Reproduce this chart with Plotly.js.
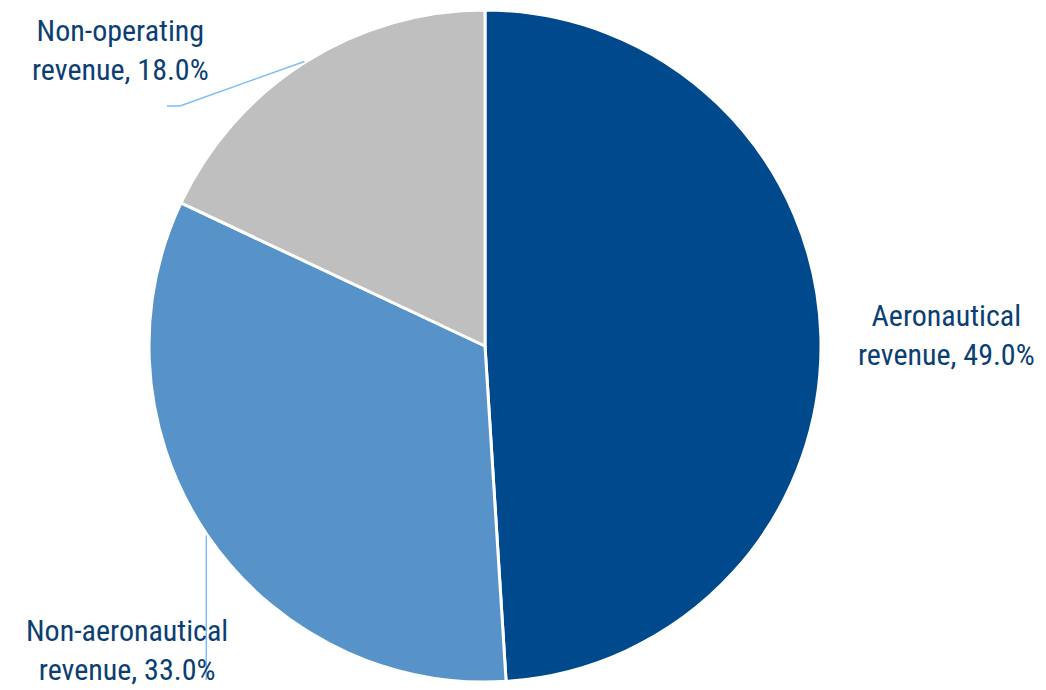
<!DOCTYPE html>
<html>
<head>
<meta charset="utf-8">
<script src="https://cdn.plot.ly/plotly-3.0.1.min.js"></script>
<style>html,body{margin:0;padding:0;background:#fff;}#chart{width:1046px;height:690px;}</style>
</head>
<body>
<div id="chart"></div>
<script>
const categories = ["Aeronautical revenue", "Non-aeronautical revenue", "Non-operating revenue"];
const labelLines = [["Aeronautical", "revenue"], ["Non-aeronautical", "revenue"], ["Non-operating", "revenue"]];
const shares = [49.0, 33.0, 18.0];
const colors = ["#00498C", "#5793C8", "#BFBFBF"];

const W = 1046, H = 690;
const cx = 485, cy = 346, R = 336;
const font = "'Liberation Sans Narrow', 'Arial Narrow', 'Roboto Condensed', 'DejaVu Sans Condensed', sans-serif";
const textColor = "#0B3E72";
const lineColor = "#7FBDF2";

function px(x){ return x / W; }
function py(y){ return 1 - y / H; }

// mid angles (clockwise from top)
const total = shares.reduce((a,b)=>a+b,0);
let acc = 0;
const mids = shares.map(v => { const m = (acc + v/2) / total * 2 * Math.PI; acc += v; return m; });
const edge = mids.map(a => [cx + Math.sin(a) * (R + 1), cy - Math.cos(a) * (R + 1)]);

const labelPos = [[946, 335], [127, 650], [120, 50]];
const annotations = categories.map((c, i) => ({
  xref: "paper", yref: "paper",
  x: px(labelPos[i][0]), y: py(labelPos[i][1]),
  xanchor: "center", yanchor: "middle",
  text: labelLines[i][0] + "<br>" + labelLines[i][1] + ", " + shares[i].toFixed(1) + "%",
  showarrow: false,
  font: {family: font, size: 30, color: textColor}
}));

const shapes = [
  // Non-operating leader
  {type: "path", xref: "paper", yref: "paper",
   path: "M " + px(edge[2][0]) + "," + py(edge[2][1]) + " L " + px(180) + "," + py(106) + " L " + px(167) + "," + py(106),
   line: {color: lineColor, width: 1.5}},
  // Non-aeronautical leader
  {type: "line", xref: "paper", yref: "paper",
   x0: px(edge[1][0]), y0: py(edge[1][1]), x1: px(edge[1][0]), y1: py(680),
   line: {color: lineColor, width: 1.5}}
];

const data = [{
  type: "pie",
  labels: categories,
  values: shares,
  sort: false,
  direction: "clockwise",
  rotation: 0,
  textinfo: "none",
  hoverinfo: "label+percent",
  marker: {colors: colors, line: {color: "#ffffff", width: 3}},
  domain: {x: [0, 2 * cx / W], y: [(H - cy - R) / H, (H - cy + R) / H]}
}];

const layout = {
  width: W, height: H,
  margin: {l: 0, r: 0, t: 0, b: 0},
  paper_bgcolor: "#ffffff",
  showlegend: false,
  annotations: annotations,
  shapes: shapes
};

Plotly.newPlot("chart", data, layout, {displayModeBar: false, staticPlot: true});
</script>
</body>
</html>
